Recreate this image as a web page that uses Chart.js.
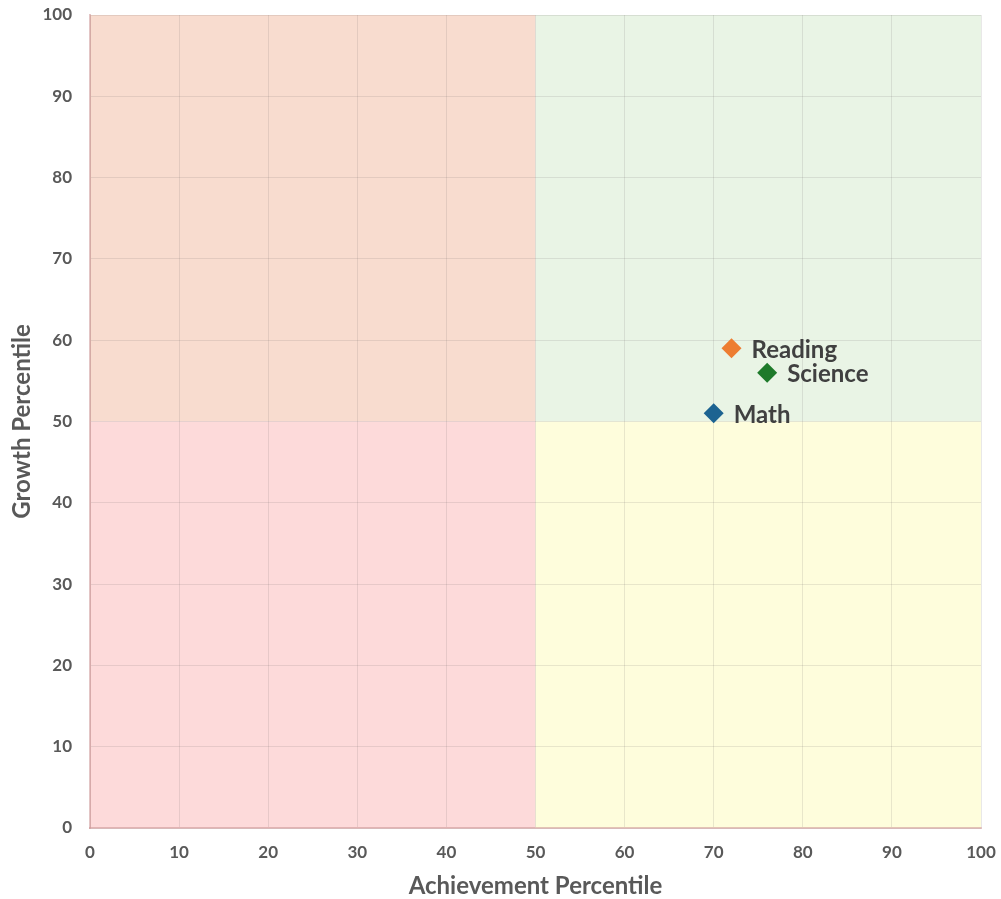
<!DOCTYPE html>
<html>
<head>
<meta charset="utf-8">
<script src="https://cdn.jsdelivr.net/npm/chart.js@4"></script>
<style>
  body { margin: 0; background: #fff; }
  canvas { display: block; }
</style>
</head>
<body>
<canvas id="quadChart" width="1001" height="899"></canvas>
<script>
const subjects = ['Reading', 'Science', 'Math'];
const achievement = [72, 76, 70];
const growth = [59, 56, 51];
const subjectColors = ['#ED7D31', '#1E7A2A', '#1C6391'];
const cutoff = 50;

// quadrant fills: [top-left, top-right, bottom-left, bottom-right]
const quadrantFills = ['#F8DCCF', '#E9F4E5', '#FDDADA', '#FEFDDC'];

const quadrantPlugin = {
    id: 'quadrants',
    beforeDraw(chart) {
        const ctx = chart.ctx;
        const area = chart.chartArea;
        const midX = chart.scales.x.getPixelForValue(cutoff);
        const midY = chart.scales.y.getPixelForValue(cutoff);
        ctx.save();
        ctx.fillStyle = quadrantFills[0];
        ctx.fillRect(area.left, area.top, midX - area.left, midY - area.top);
        ctx.fillStyle = quadrantFills[1];
        ctx.fillRect(midX, area.top, area.right - midX, midY - area.top);
        ctx.fillStyle = quadrantFills[2];
        ctx.fillRect(area.left, midY, midX - area.left, area.bottom - midY);
        ctx.fillStyle = quadrantFills[3];
        ctx.fillRect(midX, midY, area.right - midX, area.bottom - midY);
        ctx.restore();
    }
};

const pointLabelPlugin = {
    id: 'pointLabels',
    afterDatasetsDraw(chart) {
        const ctx = chart.ctx;
        ctx.save();
        ctx.font = 'bold 24px Lato';
        ctx.fillStyle = '#404040';
        ctx.textBaseline = 'middle';
        ctx.textAlign = 'left';
        chart.data.datasets.forEach((ds, i) => {
            const pt = chart.getDatasetMeta(i).data[0];
            ctx.fillText(ds.label, pt.x + 20, pt.y + 2);
        });
        ctx.restore();
    }
};

const datasets = subjects.map((name, i) => ({
    label: name,
    data: [{ x: achievement[i], y: growth[i] }],
    backgroundColor: subjectColors[i],
    borderColor: subjectColors[i],
    pointStyle: 'rectRot',
    pointRadius: 10,
    pointHoverRadius: 10,
    borderWidth: 0
}));

const tickFont = { family: 'Lato', size: 17, weight: 'bold' };
const titleFont = { family: 'Lato', size: 24, weight: 'bold' };

new Chart(document.getElementById('quadChart'), {
    type: 'scatter',
    data: { datasets: datasets },
    options: {
        responsive: false,
        animation: false,
        layout: { padding: { top: 15, right: 20, left: 0, bottom: 0 } },
        plugins: {
            legend: { display: false },
            tooltip: { enabled: false }
        },
        scales: {
            x: {
                min: 0,
                max: 100,
                ticks: { stepSize: 10, color: '#595959', font: tickFont, padding: 14 },
                grid: { color: 'rgba(110,100,100,0.15)', drawTicks: false },
                border: { color: 'rgba(200,140,140,0.5)', width: 2 },
                title: {
                    display: true,
                    text: 'Achievement Percentile',
                    color: '#595959',
                    font: titleFont,
                    padding: { top: 12, bottom: -2 }
                },
                afterFit(scale) {
                    scale.height = 71;
                    scale.paddingLeft = 0;
                    scale.paddingRight = 0;
                }
            },
            y: {
                min: 0,
                max: 100,
                ticks: { stepSize: 10, color: '#595959', font: tickFont, padding: 18 },
                grid: { color: 'rgba(110,100,100,0.15)', drawTicks: false },
                border: { color: 'rgba(200,140,140,0.5)', width: 2 },
                title: {
                    display: true,
                    text: 'Growth Percentile',
                    color: '#595959',
                    font: titleFont,
                    padding: { top: 8, bottom: 0 }
                },
                afterFit(scale) {
                    scale.width = 90;
                    scale.paddingTop = 0;
                    scale.paddingBottom = 0;
                }
            }
        }
    },
    plugins: [quadrantPlugin, pointLabelPlugin]
});
</script>
</body>
</html>
